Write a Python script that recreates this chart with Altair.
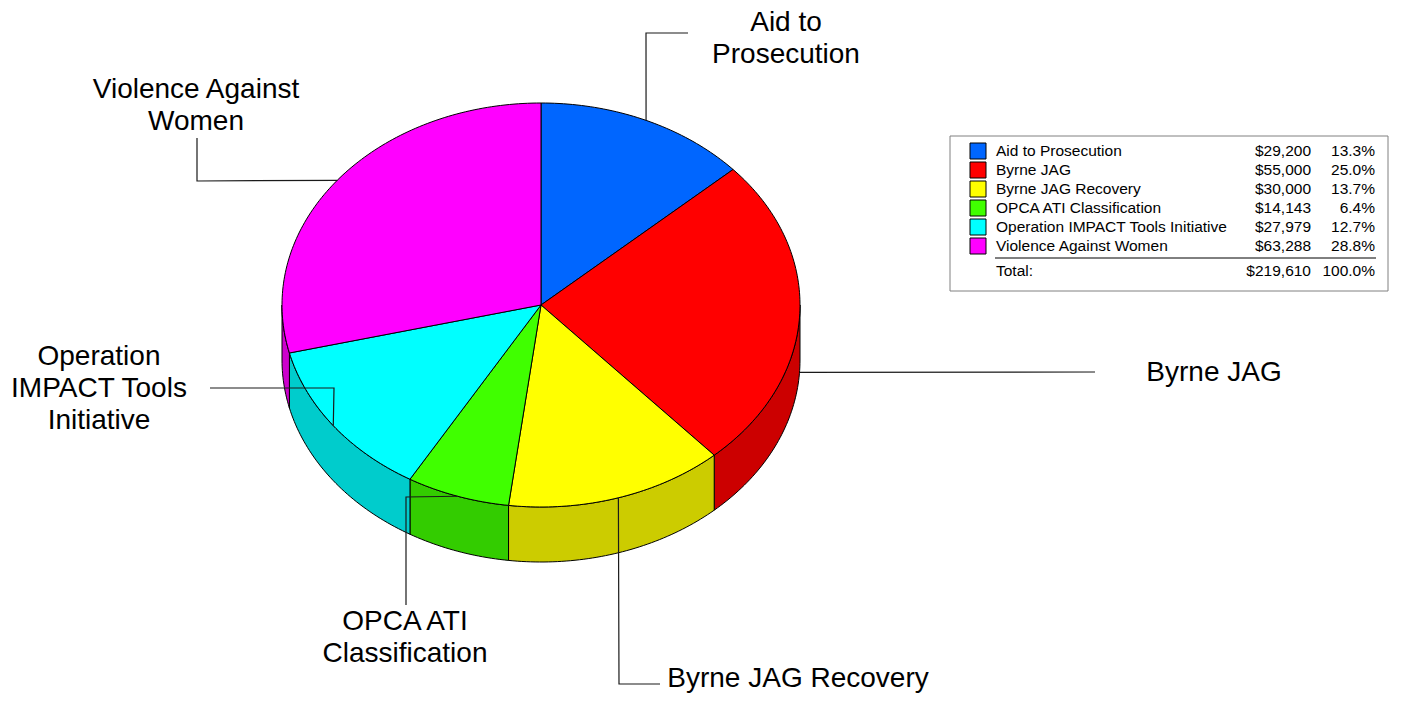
import altair as alt
import numpy as np
import pandas as pd

# ---------------- data ----------------
names = ["Aid to Prosecution", "Byrne JAG", "Byrne JAG Recovery",
         "OPCA ATI Classification", "Operation IMPACT Tools Initiative",
         "Violence Against Women"]
amounts = [29200, 55000, 30000, 14143, 27979, 63288]
pie_labels = ["Aid to\nProsecution", "Byrne JAG", "Byrne JAG Recovery",
              "OPCA ATI\nClassification", "Operation\nIMPACT Tools\nInitiative",
              "Violence Against\nWomen"]
top_colors = ["#0066FF", "#FF0000", "#FFFF00", "#40FF00", "#00FFFF", "#FF00FF"]
side_colors = ["#0052CC", "#CC0000", "#CCCC00", "#33CC00", "#00CCCC", "#CC00CC"]

# ---------------- layout ----------------
W, H = 1397, 687
CX, CY, RX, RY, DEPTH = 541, 305, 259, 202, 55
FONT = "Liberation Sans"
leader_paths = [
    [(646, 33), (688, 33)],
    [(1095, 372)],
    [(619, 684), (660, 684)],
    [(406, 497), (406, 605)],
    [(334, 388), (210, 388)],
    [(197, 181), (197, 138)],
]
anchor_drop = [0, 57, 0, 0, 0, 0]
# position of the first text line of each pie label
label_pos = [(786, 23), (1214, 373), (798, 679), (405, 622), (99, 357), (196, 90)]
LEG_BOX = (950, 1388, 136, 291)
LEG_SW_X, LEG_NAME_X, LEG_AMT_X, LEG_PCT_X = 978, 996, 1311, 1375
LY0, LDY = 151, 19
SEP = (995, 1376, 258)
TOT_Y = 271

xs = alt.Scale(domain=[8, 8 + W], nice=False, zero=False)
ys = alt.Scale(domain=[8, 8 + H], nice=False, zero=False, reverse=True)
X = alt.X("x:Q", scale=xs, axis=None)
Y = alt.Y("y:Q", scale=ys, axis=None)

total = sum(amounts)
fracs = [a / total for a in amounts]
cum = np.concatenate([[0.0], np.cumsum(fracs)]) * 360.0


def pt(t, drop=0.0):
    r = np.radians(t)
    return CX + RX * np.sin(r), CY - RY * np.cos(r) + drop


def arc(a0, a1, drop=0.0):
    n = max(2, int(np.ceil(abs(a1 - a0) / 1.0)) + 1)
    return [pt(t, drop) for t in np.linspace(a0, a1, n)]


top_rows, side_rows, lead_rows = [], [], []
for i in range(len(names)):
    a0, a1 = cum[i], cum[i + 1]
    pts = [(CX, CY)] + arc(a0, a1) + [(CX, CY)]
    for k, (x, y) in enumerate(pts):
        top_rows.append({"poly": f"t{i}", "k": k, "x": x, "y": y, "fill": top_colors[i]})
    s, e = max(a0, 90.0), min(a1, 270.0)
    if e > s:
        sp = arc(s, e) + arc(e, s, DEPTH)
        sp = sp + [sp[0]]
        for k, (x, y) in enumerate(sp):
            side_rows.append({"poly": f"s{i}", "k": k, "x": x, "y": y, "fill": side_colors[i]})
    mid = (a0 + a1) / 2
    ax, ay = pt(mid, anchor_drop[i])
    path = [(ax, ay)] + leader_paths[i]
    for k, (x, y) in enumerate(path):
        lead_rows.append({"line": i, "k": k, "x": x, "y": y})

top_df = pd.DataFrame(top_rows)
side_df = pd.DataFrame(side_rows)
lead_df = pd.DataFrame(lead_rows)
lab_df = pd.DataFrame({"label": pie_labels,
                       "x": [p[0] for p in label_pos],
                       "y": [p[1] for p in label_pos]})


def poly_layer(df):
    return alt.Chart(df).mark_line(
        filled=True, stroke="black", strokeWidth=1, opacity=1, strokeJoin="round"
    ).encode(
        x=X, y=Y,
        color=alt.Color("fill:N", scale=None),
        detail="poly:N",
        order="k:Q",
    )


sides = poly_layer(side_df)
tops = poly_layer(top_df)

leaders = alt.Chart(lead_df).mark_line(color="#1a1a1a", strokeWidth=1.2).encode(
    x=X, y=Y, detail="line:N", order="k:Q",
)

labels = alt.Chart(lab_df).mark_text(
    font=FONT, fontSize=28, lineHeight=32, lineBreak="\n",
    align="center", baseline="middle", color="black"
).encode(x=X, y=Y, text="label:N")

# ---------------- legend table ----------------
n = len(names)
leg_df = pd.DataFrame({
    "name": names,
    "amt": [f"${a:,}" for a in amounts],
    "pct": [f"{100 * f:.1f}%" for f in fracs],
    "fill": top_colors,
    "y": [LY0 + LDY * r for r in range(n)],
    "xs": [LEG_SW_X] * n,
    "xn": [LEG_NAME_X] * n,
    "xa": [LEG_AMT_X] * n,
    "xp": [LEG_PCT_X] * n,
})

box_df = pd.DataFrame({"x": [LEG_BOX[0]], "x2": [LEG_BOX[1]],
                       "y": [LEG_BOX[2]], "y2": [LEG_BOX[3]]})
box = alt.Chart(box_df).mark_rect(fill="white", stroke="#808080", strokeWidth=1).encode(
    x=X, x2="x2:Q", y=Y, y2="y2:Q")

swatches = alt.Chart(leg_df).mark_square(
    size=256, filled=True, opacity=1, stroke="black", strokeWidth=1
).encode(
    x=alt.X("xs:Q", scale=xs, axis=None), y=Y,
    color=alt.Color("fill:N", scale=None),
)

txt_kw = dict(font=FONT, fontSize=15.5, baseline="middle", color="black")
leg_names = alt.Chart(leg_df).mark_text(align="left", **txt_kw).encode(
    x=alt.X("xn:Q", scale=xs, axis=None), y=Y, text="name:N")
leg_amts = alt.Chart(leg_df).mark_text(align="right", **txt_kw).encode(
    x=alt.X("xa:Q", scale=xs, axis=None), y=Y, text="amt:N")
leg_pcts = alt.Chart(leg_df).mark_text(align="right", **txt_kw).encode(
    x=alt.X("xp:Q", scale=xs, axis=None), y=Y, text="pct:N")

sep_df = pd.DataFrame({"x": [SEP[0]], "x2": [SEP[1]], "y": [SEP[2]]})
sep = alt.Chart(sep_df).mark_rule(color="black", strokeWidth=1).encode(
    x=X, x2="x2:Q", y=Y)

tot_df = pd.DataFrame({
    "t": ["Total:", f"${total:,}", "100.0%"],
    "x": [LEG_NAME_X, LEG_AMT_X, LEG_PCT_X],
    "y": [TOT_Y] * 3,
})
tot_left = alt.Chart(tot_df.iloc[:1]).mark_text(align="left", **txt_kw).encode(
    x=X, y=Y, text="t:N")
tot_right = alt.Chart(tot_df.iloc[1:]).mark_text(align="right", **txt_kw).encode(
    x=X, y=Y, text="t:N")

chart = alt.layer(
    sides, tops, leaders, labels,
    box, swatches, leg_names, leg_amts, leg_pcts, sep, tot_left, tot_right,
).properties(
    width=W, height=H, padding=0,
    autosize=alt.AutoSizeParams(type="none"),
    background="white",
).configure_view(strokeWidth=0)

chart.save("out.html", embed_options={"renderer": "svg", "actions": False})
